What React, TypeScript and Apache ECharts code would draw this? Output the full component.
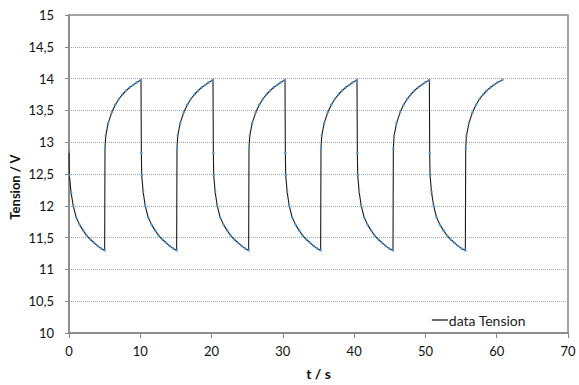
import React, { useEffect, useRef } from "react";
import * as echarts from "echarts";

const xTicks = { min: 0, max: 70, interval: 10 };
const yTicks = { min: 10, max: 15, interval: 0.5 };
const seriesName = "data Tension";
const xTitle = "t / s";
const yTitle = "Tension / V";

const d1 = [[0, 12.85], [0.05, 12.48], [0.3, 12.2], [0.6, 12.0], [1.0, 11.82], [1.5, 11.7], [2.0, 11.61], [2.5, 11.53], [3.0, 11.47], [3.5, 11.42], [4.0, 11.37], [4.5, 11.33], [5.0, 11.3]];
const c1 = [[5.05, 12.9], [5.15, 13.1], [5.5, 13.3], [6.0, 13.47], [6.5, 13.59], [7.0, 13.68], [7.5, 13.75], [8.0, 13.81], [8.5, 13.86], [9.0, 13.9], [9.5, 13.94], [10.1, 13.98]];
const d2 = [[10.15, 12.83], [10.2, 12.48], [10.4, 12.22], [10.7, 12.0], [11.1, 11.82], [11.6, 11.7], [12.1, 11.61], [12.6, 11.53], [13.1, 11.47], [13.6, 11.42], [14.1, 11.37], [14.6, 11.33], [15.1, 11.3]];
const c2 = [[15.15, 12.9], [15.25, 13.1], [15.6, 13.3], [16.1, 13.47], [16.6, 13.59], [17.1, 13.68], [17.6, 13.75], [18.1, 13.81], [18.6, 13.86], [19.1, 13.9], [19.6, 13.94], [20.2, 13.98]];
const d3 = [[20.25, 12.83], [20.3, 12.48], [20.5, 12.22], [20.8, 12.0], [21.2, 11.82], [21.7, 11.7], [22.2, 11.61], [22.7, 11.53], [23.2, 11.47], [23.7, 11.42], [24.2, 11.37], [24.7, 11.33], [25.2, 11.3]];
const c3 = [[25.25, 12.9], [25.35, 13.1], [25.7, 13.3], [26.2, 13.47], [26.7, 13.59], [27.2, 13.68], [27.7, 13.75], [28.2, 13.81], [28.7, 13.86], [29.2, 13.9], [29.7, 13.94], [30.3, 13.98]];
const d4 = [[30.35, 12.83], [30.4, 12.48], [30.6, 12.22], [30.9, 12.0], [31.3, 11.82], [31.8, 11.7], [32.3, 11.61], [32.8, 11.53], [33.3, 11.47], [33.8, 11.42], [34.3, 11.37], [34.8, 11.33], [35.3, 11.3]];
const c4 = [[35.35, 12.9], [35.45, 13.1], [35.8, 13.3], [36.3, 13.47], [36.8, 13.59], [37.3, 13.68], [37.8, 13.75], [38.3, 13.81], [38.8, 13.86], [39.3, 13.9], [39.8, 13.94], [40.4, 13.98]];
const d5 = [[40.45, 12.83], [40.5, 12.48], [40.7, 12.22], [41.0, 12.0], [41.4, 11.82], [41.9, 11.7], [42.4, 11.61], [42.9, 11.53], [43.4, 11.47], [43.9, 11.42], [44.4, 11.37], [44.9, 11.33], [45.45, 11.3]];
const c5 = [[45.5, 12.9], [45.6, 13.1], [45.95, 13.3], [46.45, 13.47], [46.95, 13.59], [47.45, 13.68], [47.95, 13.75], [48.45, 13.81], [48.95, 13.86], [49.45, 13.9], [49.95, 13.94], [50.55, 13.98]];
const d6 = [[50.6, 12.83], [50.65, 12.48], [50.85, 12.22], [51.15, 12.0], [51.55, 11.82], [52.05, 11.7], [52.55, 11.61], [53.05, 11.53], [53.55, 11.47], [54.05, 11.42], [54.55, 11.37], [55.05, 11.33], [55.6, 11.3]];
const c6 = [[55.65, 12.9], [55.75, 13.1], [56.1, 13.3], [56.6, 13.47], [57.1, 13.59], [57.6, 13.68], [58.1, 13.75], [58.6, 13.81], [59.1, 13.86], [59.6, 13.9], [60.1, 13.94], [60.8, 13.98]];

const segments = [d1, c1, d2, c2, d3, c3, d4, c4, d5, c5, d6, c6];

const FONT = "Lato, 'Open Sans', sans-serif";
const AXIS_COLOR = "#868686";

export default function App() {
  const ref = useRef<HTMLDivElement>(null);
  useEffect(() => {
    if (!ref.current) return;
    const chart = echarts.init(ref.current, undefined, { renderer: "svg" });
    const data = segments.flat();
    chart.setOption({
      animation: false,
      backgroundColor: "#ffffff",
      textStyle: { fontFamily: FONT },
      grid: {
        left: 69,
        top: 15,
        right: 11,
        bottom: 52,
        containLabel: false,
        outerBoundsMode: "none",
        show: true,
        borderColor: AXIS_COLOR,
        borderWidth: 1.5,
      },
      legend: {
        right: 48,
        top: 308,
        icon: "rect",
        itemWidth: 16,
        itemHeight: 1.3,
        itemGap: 2,
        itemStyle: { color: "#1a1a1a" },
        textStyle: { fontFamily: FONT, fontSize: 14, color: "#222", padding: [0, 0, 0, -4] },
        data: [seriesName],
      },
      graphic: [
        {
          type: "text",
          x: 15,
          y: 187,
          rotation: Math.PI / 2,
          style: {
            text: yTitle,
            fontFamily: FONT,
            fontSize: 13,
            fontWeight: "bold",
            fill: "#111",
            align: "center",
            verticalAlign: "middle",
          },
        },
      ],
      xAxis: {
        type: "value",
        min: xTicks.min,
        max: xTicks.max,
        interval: xTicks.interval,
        name: xTitle,
        nameLocation: "middle",
        nameGap: 33,
        nameTextStyle: { fontFamily: FONT, fontSize: 14, fontWeight: "bold", color: "#111" },
        axisLine: { show: true, lineStyle: { color: AXIS_COLOR, width: 1.5 } },
        axisTick: { show: true, length: 5, lineStyle: { color: AXIS_COLOR } },
        axisLabel: { fontFamily: FONT, fontSize: 13, color: "#111", margin: 11 },
        splitLine: { show: false },
      },
      yAxis: {
        type: "value",
        min: yTicks.min,
        max: yTicks.max,
        interval: yTicks.interval,
        axisLine: { show: true, lineStyle: { color: AXIS_COLOR, width: 1.5 } },
        axisTick: { show: true, length: 4, lineStyle: { color: AXIS_COLOR } },
        axisLabel: {
          fontFamily: FONT,
          fontSize: 13,
          color: "#111",
          margin: 15,
          formatter: (v: number) => String(v).replace(".", ","),
        },
        splitLine: { show: true, lineStyle: { color: "#a6a6a6", type: "dotted", width: 1 } },
      },
      series: [
        {
          name: seriesName,
          type: "line",
          data,
          smooth: false,
          symbol: "circle",
          symbolSize: 2.5,
          showSymbol: true,
          itemStyle: { color: "#4f94d4" },
          lineStyle: { color: "#1a1a1a", width: 1.1 },
        },
      ],
    });
    return () => chart.dispose();
  }, []);
  return (
    <div
      ref={ref}
      style={{ position: "absolute", left: 0, top: 0, width: 579, height: 385, background: "#fff" }}
    />
  );
}
